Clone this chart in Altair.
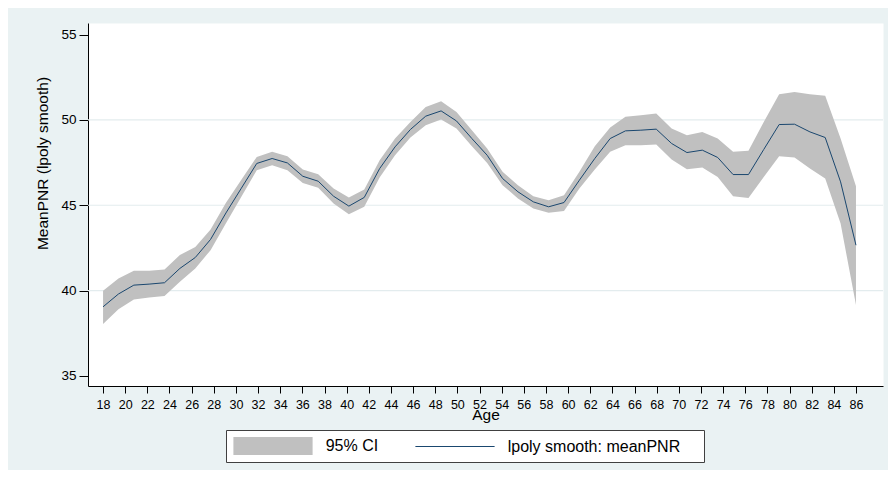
import altair as alt
import pandas as pd

# lpoly evaluation grid (ages) and smoothed values with 95% CI
ages = [18.00, 19.39, 20.78, 22.16, 23.55, 24.94, 26.33, 27.71, 29.10, 30.49,
        31.88, 33.27, 34.65, 36.04, 37.43, 38.82, 40.20, 41.59, 42.98, 44.37,
        45.76, 47.14, 48.53, 49.92, 51.31, 52.69, 54.08, 55.47, 56.86, 58.24,
        59.63, 61.02, 62.41, 63.80, 65.18, 66.57, 67.96, 69.35, 70.73, 72.12,
        73.51, 74.90, 76.29, 77.67, 79.06, 80.45, 81.84, 83.22, 84.61, 86.00]

mean_pnr = [39.05, 39.80, 40.32, 40.38, 40.46, 41.30, 41.94, 43.00, 44.55, 46.00,
            47.45, 47.74, 47.48, 46.70, 46.41, 45.53, 44.95, 45.46, 47.15, 48.42,
            49.44, 50.22, 50.53, 49.94, 48.91, 47.93, 46.57, 45.79, 45.20, 44.91,
            45.16, 46.47, 47.74, 48.91, 49.36, 49.40, 49.46, 48.62, 48.09, 48.23,
            47.80, 46.80, 46.80, 48.27, 49.73, 49.75, 49.30, 48.97, 46.37, 42.66]

ci_high = [39.99, 40.71, 41.16, 41.16, 41.24, 42.08, 42.56, 43.58, 45.15, 46.50,
           47.83, 48.13, 47.87, 47.10, 46.82, 45.98, 45.46, 45.93, 47.64, 48.91,
           49.88, 50.76, 51.10, 50.47, 49.40, 48.33, 46.96, 46.18, 45.53, 45.30,
           45.59, 46.96, 48.46, 49.56, 50.18, 50.28, 50.37, 49.50, 49.10, 49.30,
           48.91, 48.13, 48.19, 49.88, 51.50, 51.64, 51.50, 51.41, 48.91, 46.12]

ci_low = [38.04, 38.90, 39.48, 39.60, 39.68, 40.52, 41.30, 42.37, 43.95, 45.50,
          47.05, 47.35, 47.05, 46.31, 46.02, 45.11, 44.48, 44.91, 46.63, 47.93,
          48.97, 49.69, 50.02, 49.50, 48.46, 47.48, 46.18, 45.40, 44.81, 44.56,
          44.67, 45.98, 47.10, 48.13, 48.52, 48.52, 48.56, 47.68, 47.11, 47.21,
          46.66, 45.53, 45.43, 46.66, 47.87, 47.80, 47.15, 46.57, 43.93, 39.15]

x_ticks = [18, 20, 22, 24, 26, 28, 30, 32, 34, 36, 38, 40, 42, 44, 46, 48, 50, 52,
           54, 56, 58, 60, 62, 64, 66, 68, 70, 72, 74, 76, 78, 80, 82, 84, 86]
y_ticks = [35, 40, 45, 50, 55]
grid_values = [40, 45, 50]
series_names = ["95% CI", "lpoly smooth: meanPNR"]
series_colors = ["#C0C0C0", "#1A476F"]

FONT = "Liberation Sans"
X_TITLE = "Age"
Y_TITLE = "MeanPNR (lpoly smooth)"

ci_df = pd.DataFrame({"age": ages, "lo": ci_low, "hi": ci_high,
                      "series": series_names[0]})
line_df = pd.DataFrame({"age": ages, "mean": mean_pnr, "series": series_names[1]})
grid_df = pd.DataFrame({"g": grid_values})

xscale = alt.Scale(domain=[16.64, 88.44], nice=False, zero=False)
yscale = alt.Scale(domain=[34.41, 55.68], nice=False, zero=False)
cscale = alt.Scale(domain=series_names, range=series_colors)

xaxis = alt.Axis(values=x_ticks, grid=False, tickSize=7, labelPadding=5,
                 labelFontSize=12.5, labelFlush=False, labelOverlap=False,
                 titleY=33, titleBaseline="alphabetic", titleFontSize=15.5)
yaxis = alt.Axis(values=y_ticks, grid=False, tickSize=9, labelPadding=3,
                 labelFontSize=13.5, labelAngle=0, labelOverlap=False,
                 titleAngle=270, titleX=-40.5, titleY=140, titleAlign="center",
                 titleBaseline="alphabetic", titleFontSize=15.5)

legend = alt.Legend(
    orient="none", legendX=138, legendY=407, direction="horizontal", columns=2,
    columnPadding=36, title=None,
    symbolType=alt.ExprRef("datum.value == '95% CI' ? 'M-4.4,-1H4.4V1H-4.4Z' : 'M-4.4,-0.06H4.4V0.06H-4.4Z'"),
    symbolSize=324, symbolOffset=31, symbolStrokeWidth=0,
    symbolFillColor=alt.ExprRef("datum.value == '95% CI' ? '#C0C0C0' : '#1A476F'"),
    symbolOpacity=1,
    labelOffset=43.7, labelFontSize=16, labelFont=FONT, labelColor="black",
    labelLimit=400,
    labelExpr="datum.label == '95% CI' ? datum.label : datum.label + '\u00a0\u2800'",
    fillColor="white", strokeColor="#404040", padding=7,
)

grid = alt.Chart(grid_df).mark_rule(color="#E3ECEE", strokeWidth=1.2).encode(
    y=alt.Y("g:Q", scale=yscale, axis=yaxis, title=Y_TITLE)
)

area = alt.Chart(ci_df).mark_area(opacity=1).encode(
    x=alt.X("age:Q", scale=xscale, axis=xaxis, title=X_TITLE),
    y=alt.Y("lo:Q", scale=yscale, axis=yaxis, title=Y_TITLE),
    y2="hi:Q",
    color=alt.Color("series:N", scale=cscale, legend=legend),
)

line = alt.Chart(line_df).mark_line(strokeWidth=1).encode(
    x=alt.X("age:Q", scale=xscale, axis=xaxis, title=X_TITLE),
    y=alt.Y("mean:Q", scale=yscale, axis=yaxis, title=Y_TITLE),
    color=alt.Color("series:N", scale=cscale, legend=legend),
)

chart = alt.layer(grid, area, line).properties(
    width=795, height=363,
    autosize=alt.AutoSizeParams(type="none"),
    padding={"left": 80, "top": 15, "right": 5, "bottom": 84},
    background="#EAF2F3",
).configure_view(
    fill="white", stroke="transparent"
).configure_axis(
    labelFont=FONT, titleFont=FONT, labelColor="black", titleColor="black",
    tickColor="black", domainColor="black", domainWidth=1, tickWidth=1,
    titleFontWeight="normal", labelOverlap=False,
)

chart.save("out.html", embed_options={"renderer": "svg", "actions": False})
